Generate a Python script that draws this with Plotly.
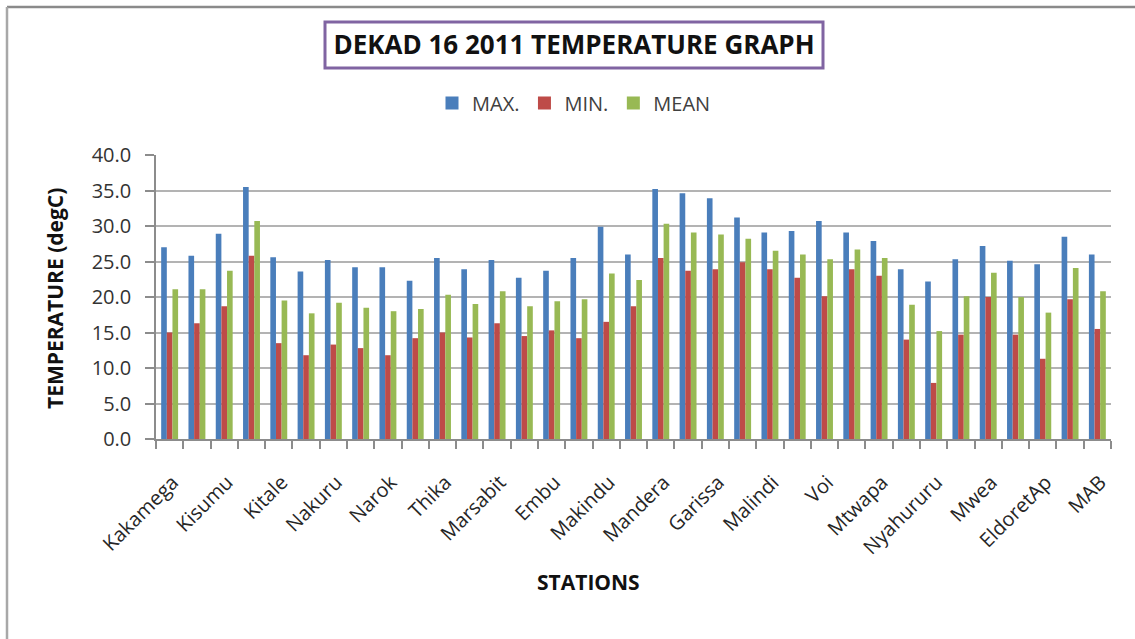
import plotly.graph_objects as go

# ---------------- data ----------------
stations = [
    "Kakamega", "Kericho", "Kisumu", "Lodwar", "Kitale", "Eldoret", "Nakuru", "Nyeri",
    "Narok", "Meru", "Thika", "Dagoretti", "Marsabit", "Wilson", "Embu", "Machakos",
    "Makindu", "Moyale", "Mandera", "Wajir", "Garissa", "Lamu", "Malindi", "Mombasa",
    "Voi", "Msabaha", "Mtwapa", "Nanyuki", "Nyahururu", "Kitui", "Mwea", "Kisii",
    "EldoretAp", "JKIA", "MAB",
]
max_t = [27.0, 25.8, 28.9, 35.5, 25.6, 23.6, 25.2, 24.2, 24.2, 22.3, 25.5, 23.9,
         25.2, 22.7, 23.7, 25.5, 29.9, 26.0, 35.2, 34.6, 33.9, 31.2, 29.1, 29.3,
         30.7, 29.1, 27.9, 23.9, 22.2, 25.3, 27.2, 25.1, 24.6, 28.5, 26.0]
min_t = [15.0, 16.3, 18.7, 25.8, 13.5, 11.8, 13.3, 12.8, 11.8, 14.2, 15.0, 14.3,
         16.3, 14.5, 15.3, 14.2, 16.5, 18.7, 25.5, 23.7, 23.9, 24.9, 23.9, 22.7,
         20.1, 23.9, 23.0, 14.0, 7.9, 14.7, 20.0, 14.7, 11.3, 19.7, 15.5]
mean_t = [21.1, 21.1, 23.7, 30.7, 19.5, 17.7, 19.2, 18.5, 18.0, 18.3, 20.3, 19.0,
          20.8, 18.7, 19.4, 19.7, 23.3, 22.4, 30.3, 29.1, 28.8, 28.2, 26.5, 26.0,
          25.3, 26.7, 25.5, 18.9, 15.2, 20.1, 23.4, 20.0, 17.8, 24.1, 20.8]
series_names = ["MAX.", "MIN.", "MEAN"]
y_ticks = [0, 5, 10, 15, 20, 25, 30, 35, 40]

# ---------------- layout helpers ----------------
W, H = 1135, 639
ML, MR, MT, MB = 156, 24, 155, 200
PW, PH = W - ML - MR, H - MT - MB


def px_x(px):
    return (px - ML) / PW


def px_y(py):
    return 1 - (py - MT) / PH


colors = ["#4A7EBB", "#BE4B48", "#98B954"]
FONT = "Open Sans"

fig = go.Figure()
for name, vals, col in zip(series_names, [max_t, min_t, mean_t], colors):
    fig.add_trace(go.Bar(x=stations, y=vals, name=name, marker_color=col,
                         marker_line_width=0, showlegend=False))
# square legend keys (Excel style)
for name, col in zip(series_names, colors):
    fig.add_trace(go.Scatter(x=[None], y=[None], mode="markers", name=name,
                             marker=dict(symbol="square", size=13, color=col),
                             showlegend=True))

fig.update_layout(
    width=W, height=H,
    margin=dict(l=ML, r=MR, t=MT, b=MB, autoexpand=False),
    paper_bgcolor="white", plot_bgcolor="white",
    font=dict(family=FONT, color="#262626"),
    barmode="group", bargap=0.38, bargroupgap=0,
    title=dict(text="<b>DEKAD 16 2011 TEMPERATURE GRAPH</b>",
               x=574 / W, y=1 - 45 / H, xref="container", yref="container",
               xanchor="center", yanchor="middle",
               font=dict(family=FONT, size=26, color="#111111")),
    legend=dict(orientation="h", x=px_x(574), xanchor="center",
                y=px_y(103), yanchor="middle", itemwidth=30,
                font=dict(family=FONT, size=20, color="#404040"),
                bgcolor="rgba(0,0,0,0)"),
    showlegend=True,
)

fig.update_yaxes(
    range=[0, 40], tickmode="array", tickvals=y_ticks,
    ticktext=[f"{v:.1f}" for v in y_ticks],
    showline=True, linecolor="#8c8c8c", linewidth=1.5,
    ticks="outside", ticklen=9, tickcolor="#8c8c8c", tickwidth=1.5,
    showgrid=True, gridcolor="#b3b3b3", gridwidth=1.5, zeroline=False,
    ticklabelstandoff=10,
    tickfont=dict(family=FONT, size=20, color="#333333"),
)
fig.update_xaxes(
    type="category", tickmode="linear", tick0=0, dtick=1, ticklabelstep=2,
    tickson="boundaries", ticks="outside", ticklen=8, tickcolor="#8c8c8c",
    tickwidth=1.5, showline=True, linecolor="#8c8c8c", linewidth=1.5,
    tickangle=-45, ticklabelstandoff=22, ticklabelshift=3, showgrid=False,
    range=[-0.5, len(stations) - 0.5],
    tickfont=dict(family=FONT, size=20, color="#262626"),
)

# title box and frame
fig.add_shape(type="rect", xref="paper", yref="paper",
              x0=px_x(325), x1=px_x(823), y0=px_y(68), y1=px_y(22),
              line=dict(color="#8064A2", width=3), fillcolor="rgba(0,0,0,0)")
fig.add_shape(type="line", xref="paper", yref="paper",
              x0=px_x(7), x1=px_x(W + 5), y0=px_y(7), y1=px_y(7),
              line=dict(color="#8a8a8a", width=2.5))
fig.add_shape(type="line", xref="paper", yref="paper",
              x0=px_x(7), x1=px_x(7), y0=px_y(7), y1=px_y(H + 5),
              line=dict(color="#a8a8a8", width=2.5))

# axis titles
fig.add_annotation(text="<b>STATIONS</b>", xref="paper", yref="paper",
                   x=px_x(588), y=px_y(582), xanchor="center", yanchor="middle",
                   showarrow=False, font=dict(family=FONT, size=21, color="#111111"))
fig.add_annotation(text="<b>TEMPERATURE (degC)</b>", xref="paper", yref="paper",
                   x=px_x(55), y=px_y(299), xanchor="center", yanchor="middle",
                   textangle=-90, showarrow=False,
                   font=dict(family=FONT, size=21, color="#111111"))

fig.write_html("out.html", config={"displayModeBar": False},
               post_script="document.body.style.margin='0';document.body.style.overflow='hidden';")
